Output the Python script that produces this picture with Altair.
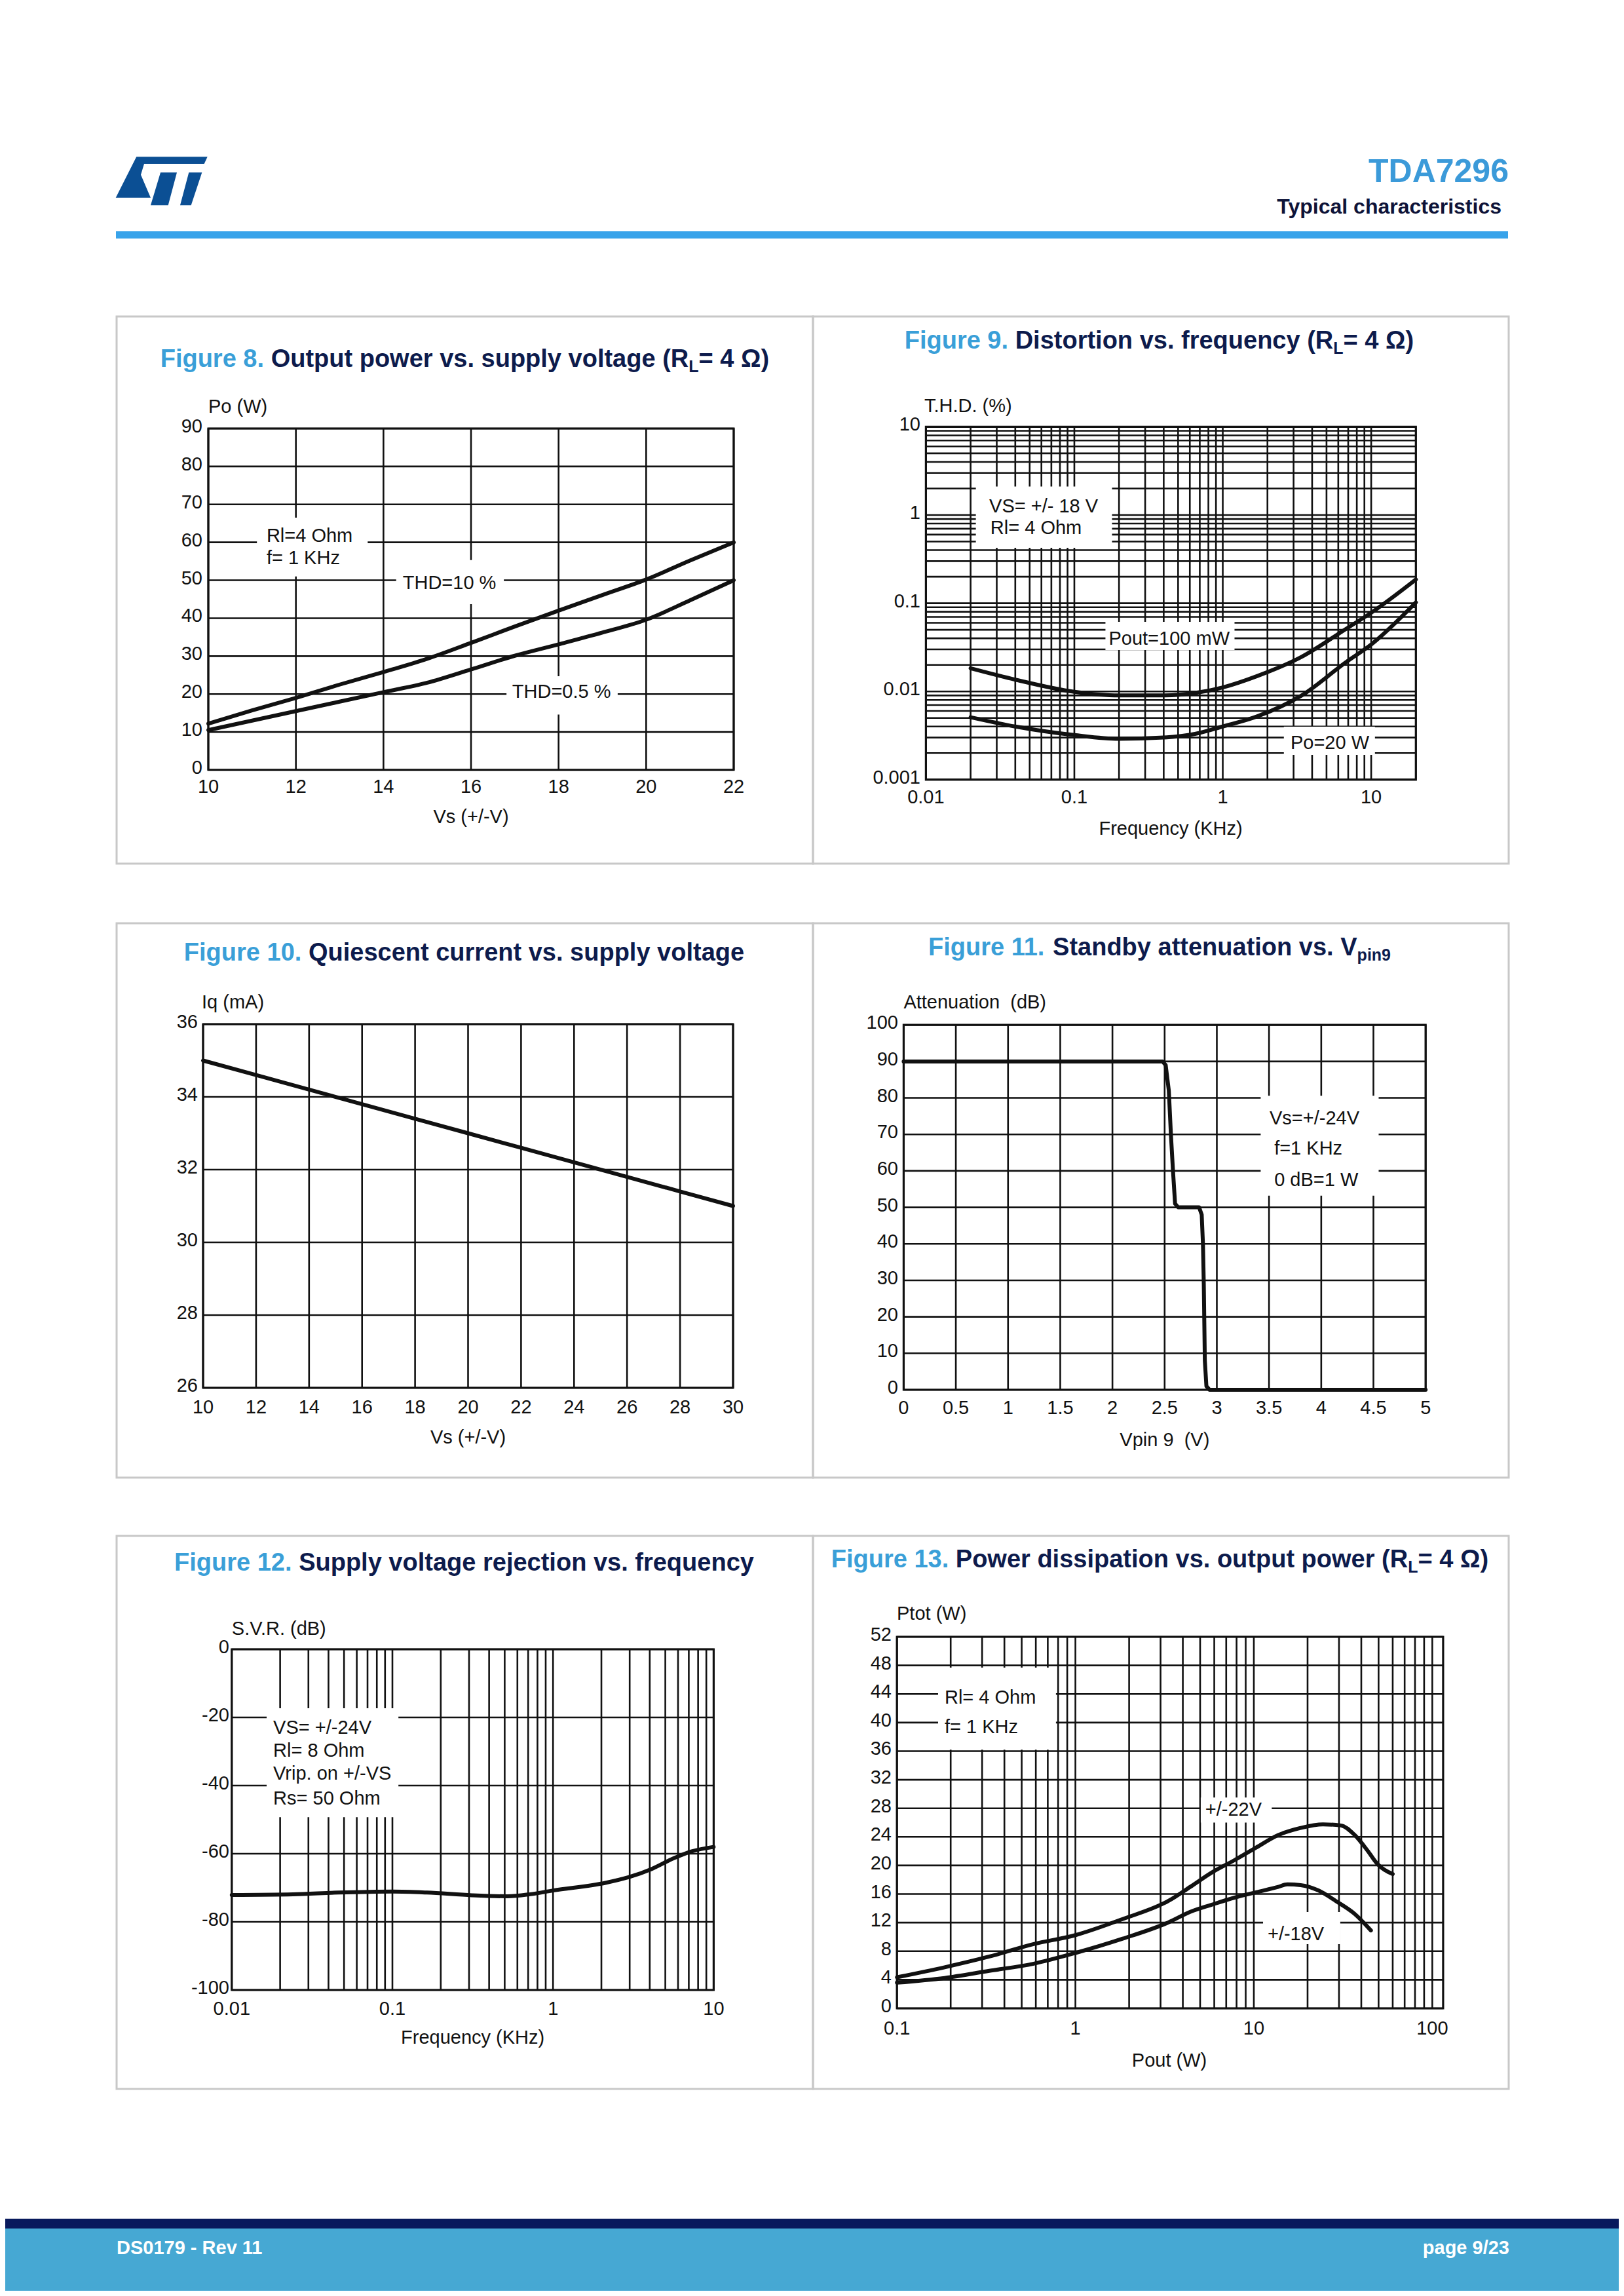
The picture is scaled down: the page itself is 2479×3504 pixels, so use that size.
import altair as alt
import pandas as pd

# ---------------- values ----------------
# Figure 8 : output power vs supply voltage
fig8_vs = [10, 11, 12, 13, 14, 15, 16, 17, 18, 19, 20, 21, 22]
fig8_po_thd10 = [12.2, 15.7, 19.0, 22.5, 25.8, 29.3, 33.5, 37.8, 42.0, 46.1, 50.2, 55.2, 60.0]
fig8_po_thd05 = [10.5, 13.0, 15.5, 18.0, 20.5, 23.0, 26.5, 30.1, 33.1, 36.2, 39.6, 44.7, 50.0]
fig8_xticks = [10, 12, 14, 16, 18, 20, 22]
fig8_yticks = [0, 10, 20, 30, 40, 50, 60, 70, 80, 90]

# Figure 9 : distortion vs frequency
fig9_freq = [0.02, 0.04, 0.1, 0.2, 0.4, 0.65, 1, 1.7, 3.4, 6.8, 10, 20]
fig9_thd_100mw = [0.0183, 0.0136, 0.0099, 0.0090, 0.0090, 0.0096, 0.0111, 0.0149, 0.0247, 0.0514, 0.078, 0.186]
fig9_thd_20w = [0.0051, 0.0040, 0.0032, 0.0029, 0.0030, 0.0033, 0.0040, 0.0052, 0.0090, 0.0216, 0.034, 0.102]
fig9_xticks = [0.01, 0.1, 1, 10]
fig9_xlabels = ["0.01", "0.1", "1", "10"]
fig9_yticks = [0.001, 0.01, 0.1, 1, 10]
fig9_ylabels = ["0.001", "0.01", "0.1", "1", "10"]

# Figure 10 : quiescent current vs supply voltage
fig10_vs = [10, 12, 14, 16, 18, 20, 22, 24, 26, 28, 30]
fig10_iq = [35.0, 34.6, 34.2, 33.8, 33.4, 33.0, 32.6, 32.2, 31.8, 31.4, 31.0]
fig10_xticks = [10, 12, 14, 16, 18, 20, 22, 24, 26, 28, 30]
fig10_yticks = [26, 28, 30, 32, 34, 36]

# Figure 11 : standby attenuation vs Vpin9
fig11_v = [0, 2.48, 2.51, 2.54, 2.56, 2.58, 2.60, 2.63, 2.83, 2.855, 2.867, 2.875, 2.885, 2.90, 2.93, 5]
fig11_att = [90, 90, 89, 82, 70, 60, 51, 50, 50, 48, 40, 29, 8, 1, 0, 0]
fig11_xticks = [0, 0.5, 1, 1.5, 2, 2.5, 3, 3.5, 4, 4.5, 5]
fig11_xlabels = ["0", "0.5", "1", "1.5", "2", "2.5", "3", "3.5", "4", "4.5", "5"]
fig11_yticks = [0, 10, 20, 30, 40, 50, 60, 70, 80, 90, 100]

# Figure 12 : supply voltage rejection vs frequency
fig12_freq = [0.01, 0.024, 0.046, 0.1, 0.164, 0.313, 0.52, 0.72, 1.0, 2.14, 2.95, 4.1, 5.6, 7.3, 10]
fig12_svr = [-72.1, -71.9, -71.4, -71.1, -71.4, -72.2, -72.5, -71.9, -70.8, -68.5, -66.9, -64.5, -61.4, -59.3, -58.0]
fig12_xticks = [0.01, 0.1, 1, 10]
fig12_xlabels = ["0.01", "0.1", "1", "10"]
fig12_yticks = [0, -20, -40, -60, -80, -100]

# Figure 13 : power dissipation vs output power
fig13_pout_22 = [0.1, 0.185, 0.329, 0.584, 1, 1.84, 3.3, 4.4, 5.8, 7.8, 10.3, 13.7, 18.3, 24.4, 30.7, 36.6, 43.6, 48.9, 60]
fig13_ptot_22 = [4.35, 5.75, 7.25, 9.0, 10.25, 12.5, 15.0, 17.0, 19.0, 20.75, 22.5, 24.25, 25.25, 25.75, 25.6, 24.3, 22.0, 20.3, 18.8]
fig13_pout_18 = [0.1, 0.185, 0.329, 0.584, 1, 1.84, 3.3, 4.4, 5.8, 7.8, 10.3, 13.7, 15.4, 18.3, 23, 28.9, 36.6, 45.3]
fig13_ptot_18 = [3.6, 4.25, 5.25, 6.25, 7.75, 9.75, 12.0, 13.5, 14.5, 15.5, 16.25, 17.0, 17.35, 17.25, 16.5, 15.0, 13.25, 10.9]
fig13_xticks = [0.1, 1, 10, 100]
fig13_xlabels = ["0.1", "1", "10", "100"]
fig13_yticks = [0, 4, 8, 12, 16, 20, 24, 28, 32, 36, 40, 44, 48, 52]

# ---------------- page layout / style ----------------
W, H, M = 2463, 3488, 8


def P(v):
    return v - M


FONT = "Liberation Sans"
INK = "#111111"
BLUE = "#3A9FD8"
NAVY = "#0D1B4C"
BOXGRAY = "#c8c8c8"
GRID_W = 2.6
CURVE_W = 6
TICK_FS = 29
AX_FS = 29
NOTE_FS = 29
TITLE_FS = 38
SUB_FS = 25

_BW = {' ': 278, '(': 333, ')': 333, '+': 584, ',': 278, '-': 333, '.': 278, '/': 278,
       '=': 584, '%': 889, 'Ω': 780}
for _c in '0123456789':
    _BW[_c] = 556
_BW.update(dict(zip('ABCDEFGHIJKLMNOPQRSTUVWXYZ',
                    [722, 722, 722, 722, 667, 611, 778, 722, 278, 556, 722, 611, 833, 722, 778,
                     667, 778, 722, 667, 611, 722, 667, 944, 667, 667, 611])))
_BW.update(dict(zip('abcdefghijklmnopqrstuvwxyz',
                    [556, 611, 556, 611, 556, 333, 611, 611, 278, 278, 556, 278, 889, 611, 611,
                     611, 611, 389, 556, 333, 611, 556, 778, 556, 556, 500])))


def tw(s, fs):
    return sum(_BW.get(c, 556) for c in s) * fs / 1000.0


def decades(lo_exp, hi_exp):
    return [round(m * 10.0 ** e, 12) for e in range(lo_exp, hi_exp) for m in range(1, 10)]


def one(**kw):
    return pd.DataFrame([kw])


def text_layer(txt, x, y, size, color, weight="normal", align="left"):
    return alt.Chart(one(t=txt)).mark_text(
        font=FONT, fontSize=size, fontWeight=weight, color=color, align=align, baseline="alphabetic"
    ).encode(x=alt.value(P(x)), y=alt.value(P(y)), text="t:N")


def rect_layer(x0, y0, x1, y1, **style):
    return alt.Chart(one(a=0)).mark_rect(**style).encode(
        x=alt.value(P(x0)), x2=alt.value(P(x1)), y=alt.value(P(y0)), y2=alt.value(P(y1)))


def title_layers(segs, cx, base):
    sizes = [SUB_FS if r == "sub" else TITLE_FS for _, r in segs]
    widths = [tw(s, f) for (s, _), f in zip(segs, sizes)]
    x = cx - sum(widths) / 2.0
    out = []
    for (s, role), f, w in zip(segs, sizes, widths):
        lead = len(s) - len(s.lstrip(" "))
        xx = x + tw(" " * lead, f)
        yy = base + (8 if role == "sub" else 0)
        out.append(text_layer(s.strip(" "), xx, yy, f, BLUE if role == "fig" else NAVY, "bold"))
        x += w
    return out


def make_scale(typ, dom, rng):
    if typ == "log":
        return alt.Scale(type="log", domain=dom, range=[P(rng[0]), P(rng[1])], nice=False)
    return alt.Scale(type="linear", domain=dom, range=[P(rng[0]), P(rng[1])], nice=False, zero=False)


def panel(p):
    xs = make_scale(p["xtype"], p["xdom"], p["xr"])
    ys = make_scale(p["ytype"], p["ydom"], p["yr"])

    def X(f):
        return alt.X(f, type="quantitative", scale=xs, axis=None)

    def Y(f):
        return alt.Y(f, type="quantitative", scale=ys, axis=None)

    L = []
    bx = p["box"]
    L.append(rect_layer(bx[0], bx[1], bx[2], bx[3], fillOpacity=0, stroke=BOXGRAY, strokeWidth=3))
    vg = pd.DataFrame({"g": p["xgrid"], "a": p["ydom"][0], "b": p["ydom"][1]})
    L.append(alt.Chart(vg).mark_rule(color=INK, strokeWidth=GRID_W).encode(
        x=X("g"), y=Y("a"), y2=alt.Y2("b")))
    hg = pd.DataFrame({"g": p["ygrid"], "a": p["xdom"][0], "b": p["xdom"][1]})
    L.append(alt.Chart(hg).mark_rule(color=INK, strokeWidth=GRID_W).encode(
        y=Y("g"), x=X("a"), x2=alt.X2("b")))
    fr = pd.DataFrame({"x0": [p["xdom"][0]], "x1": [p["xdom"][1]],
                       "y0": [p["ydom"][0]], "y1": [p["ydom"][1]]})
    L.append(alt.Chart(fr).mark_rect(fillOpacity=0, stroke=INK, strokeWidth=GRID_W + 0.6).encode(
        x=X("x0"), x2=alt.X2("x1"), y=Y("y0"), y2=alt.Y2("y1")))
    if p.get("boxes"):
        bd = pd.DataFrame(p["boxes"], columns=["x0", "x1", "y0", "y1"])
        L.append(alt.Chart(bd).mark_rect(color="white", opacity=1).encode(
            x=X("x0"), x2=alt.X2("x1"), y=Y("y0"), y2=alt.Y2("y1")))
    rows = []
    for name, (xv, yv) in p["series"].items():
        for i, (a, b) in enumerate(zip(xv, yv)):
            rows.append({"s": name, "i": i, "x": a, "y": b})
    L.append(alt.Chart(pd.DataFrame(rows)).mark_line(
        color=INK, strokeWidth=CURVE_W, interpolate=p["interp"], strokeCap="round", strokeJoin="round"
    ).encode(x=X("x"), y=Y("y"), detail="s:N", order="i:Q"))
    if p.get("notes"):
        nd = pd.DataFrame(p["notes"], columns=["x", "y", "t"])
        L.append(alt.Chart(nd).mark_text(font=FONT, fontSize=NOTE_FS, color=INK, align="left",
                                         baseline="alphabetic").encode(x=X("x"), y=Y("y"), text="t:N"))
    xt = pd.DataFrame({"v": p["xticks"], "t": p["xlabels"]})
    L.append(alt.Chart(xt).mark_text(font=FONT, fontSize=TICK_FS, color=INK, align="center",
                                     baseline="alphabetic").encode(
        x=X("v"), y=alt.value(P(p["xlab_base"])), text="t:N"))
    yt = pd.DataFrame({"v": p["yticks"], "t": p["ylabels"]})
    L.append(alt.Chart(yt).mark_text(font=FONT, fontSize=TICK_FS, color=INK, align="right",
                                     baseline="middle", dy=-3).encode(
        y=Y("v"), x=alt.value(P(p["ylab_right"])), text="t:N"))
    t, x, y = p["ytitle"]
    L.append(text_layer(t, x, y, AX_FS, INK))
    t, x, y = p["xtitle"]
    L.append(text_layer(t, x, y, AX_FS, INK, align="center"))
    L.extend(title_layers(p["title"], p["tcenter"], p["tbase"]))
    return alt.layer(*L)


NB = "\u00a0"

panels = [
    dict(  # Figure 8
        xtype="linear", xdom=[10, 22], xr=[318, 1120],
        ytype="linear", ydom=[0, 90], yr=[1175, 654],
        xgrid=fig8_xticks, ygrid=fig8_yticks,
        xticks=fig8_xticks, xlabels=[str(v) for v in fig8_xticks],
        yticks=fig8_yticks, ylabels=[str(v) for v in fig8_yticks],
        xlab_base=1210, ylab_right=309,
        ytitle=("Po (W)", 318, 630), xtitle=("Vs (+/-V)", 719, 1256),
        series={"THD=10 %": (fig8_vs, fig8_po_thd10), "THD=0.5 %": (fig8_vs, fig8_po_thd05)},
        interp="monotone",
        boxes=[(11.11, 13.64, 51.0, 66.5), (14.29, 16.75, 43.7, 55.3), (16.81, 19.35, 14.6, 24.7)],
        notes=[(11.33, 60.1, "Rl=4 Ohm"), (11.33, 54.2, "f= 1 KHz"),
               (14.44, 47.7, "THD=10 %"), (16.94, 19.0, "THD=0.5 %")],
        title=[("Figure 8.", "fig"), (" Output power vs. supply voltage (R", "n"), ("L", "sub"), ("= 4 Ω)", "n")],
        tcenter=709, tbase=560, box=(178, 483, 1241, 1318)),
    dict(  # Figure 9
        xtype="log", xdom=[0.01, 20], xr=[1413.4, 2161.3],
        ytype="log", ydom=[0.001, 10], yr=[1189.8, 651.4],
        xgrid=decades(-2, 1) + [10, 20], ygrid=decades(-3, 1) + [10],
        xticks=fig9_xticks, xlabels=fig9_xlabels, yticks=fig9_yticks, ylabels=fig9_ylabels,
        xlab_base=1226, ylab_right=1405,
        ytitle=("T.H.D. (%)", 1411, 629), xtitle=("Frequency (KHz)", 1787, 1274),
        series={"Pout=100 mW": (fig9_freq, fig9_thd_100mw), "Po=20 W": (fig9_freq, fig9_thd_20w)},
        interp="monotone",
        boxes=[(0.0217, 0.1794, 0.425, 2.105), (0.162, 1.2, 0.0295, 0.0615), (2.58, 10.6, 0.00191, 0.00398)],
        notes=[(0.0267, 1.078, "VS= +/- 18 V"), (0.0272, 0.611, "Rl= 4 Ohm"),
               (0.1705, 0.034, "Pout=100 mW"), (2.86, 0.00224, "Po=20 W")],
        title=[("Figure 9.", "fig"), (" Distortion vs. frequency (R", "n"), ("L", "sub"), ("= 4 Ω)", "n")],
        tcenter=1769, tbase=532, box=(1241, 483, 2303, 1318)),
    dict(  # Figure 10
        xtype="linear", xdom=[10, 30], xr=[310, 1119],
        ytype="linear", ydom=[26, 36], yr=[2118, 1563],
        xgrid=fig10_xticks, ygrid=fig10_yticks,
        xticks=fig10_xticks, xlabels=[str(v) for v in fig10_xticks],
        yticks=fig10_yticks, ylabels=[str(v) for v in fig10_yticks],
        xlab_base=2157, ylab_right=302,
        ytitle=("Iq" + NB + "(mA)", 308, 1539), xtitle=("Vs (+/-V)", 714.5, 2203),
        series={"Iq": (fig10_vs, fig10_iq)}, interp="linear",
        title=[("Figure 10.", "fig"), (" Quiescent current vs. supply voltage", "n")],
        tcenter=708.5, tbase=1466, box=(178, 1409, 1241, 2255)),
    dict(  # Figure 11
        xtype="linear", xdom=[0, 5], xr=[1379.4, 2176.2],
        ytype="linear", ydom=[0, 100], yr=[2121, 1564.2],
        xgrid=fig11_xticks, ygrid=fig11_yticks,
        xticks=fig11_xticks, xlabels=fig11_xlabels,
        yticks=fig11_yticks, ylabels=[str(v) for v in fig11_yticks],
        xlab_base=2158, ylab_right=1371,
        ytitle=("Attenuation" + NB + NB + "(dB)", 1379.4, 1539), xtitle=("Vpin 9" + NB + NB + "(V)", 1777.8, 2207),
        series={"att": (fig11_v, fig11_att)}, interp="linear",
        boxes=[(3.42, 4.55, 53.2, 80.6)],
        notes=[(3.505, 72.8, "Vs=+/-24V"), (3.55, 64.4, "f=1 KHz"), (3.55, 55.9, "0 dB=1 W")],
        title=[("Figure 11.", "fig"), (" Standby attenuation vs. V", "n"), ("pin9", "sub")],
        tcenter=1770, tbase=1458, box=(1241, 1409, 2303, 2255)),
    dict(  # Figure 12
        xtype="log", xdom=[0.01, 10], xr=[353.8, 1089.4],
        ytype="linear", ydom=[-100, 0], yr=[3037, 2517],
        xgrid=decades(-2, 1) + [10], ygrid=fig12_yticks,
        xticks=fig12_xticks, xlabels=fig12_xlabels,
        yticks=fig12_yticks, ylabels=[str(v) for v in fig12_yticks],
        xlab_base=3075, ylab_right=350,
        ytitle=("S.V.R. (dB)", 353.8, 2495), xtitle=("Frequency (KHz)", 721.6, 3119),
        series={"svr": (fig12_freq, fig12_svr)}, interp="monotone",
        boxes=[(0.01648, 0.109, -49.3, -17.3)],
        notes=[(0.01812, -24.9, "VS= +/-24V"), (0.01812, -31.5, "Rl= 8 Ohm"),
               (0.01812, -38.3, "Vrip. on +/-VS"), (0.01812, -45.65, "Rs= 50 Ohm")],
        title=[("Figure 12.", "fig"), (" Supply voltage rejection vs. frequency", "n")],
        tcenter=708.5, tbase=2397, box=(178, 2344, 1241, 3188)),
    dict(  # Figure 13
        xtype="log", xdom=[0.1, 115], xr=[1369.2, 2202.9],
        ytype="linear", ydom=[0, 52], yr=[3065, 2498],
        xgrid=decades(-1, 2) + [100], ygrid=fig13_yticks,
        xticks=fig13_xticks, xlabels=fig13_xlabels,
        yticks=fig13_yticks, ylabels=[str(v) for v in fig13_yticks],
        xlab_base=3105, ylab_right=1361,
        ytitle=("Ptot (W)", 1369, 2472), xtitle=("Pout (W)", 1785, 3154),
        series={"+/-22V": (fig13_pout_22, fig13_ptot_22), "+/-18V": (fig13_pout_18, fig13_ptot_18)},
        interp="monotone",
        boxes=[(0.17, 0.778, 36.2, 47.7), (5.04, 12.6, 26.0, 29.5), (11.26, 30.5, 8.99, 13.48)],
        notes=[(0.185, 42.6, "Rl= 4 Ohm"), (0.185, 38.5, "f= 1 KHz"),
               (5.34, 27.0, "+/-22V"), (11.94, 9.58, "+/-18V")],
        title=[("Figure 13.", "fig"), (" Power dissipation vs. output power (R", "n"), ("L", "sub"), ("= 4 Ω)", "n")],
        tcenter=1770, tbase=2392, box=(1241, 2344, 2303, 3188)),
]

# ---------------- header / footer decoration ----------------
LOGO_PATH = ("M -0.549 -0.529 L 1.0 -0.529 L 0.929 -0.376 L -0.381 -0.376 L -0.453 -0.137 "
             "L -0.239 0.363 L -1.0 0.363 Z "
             "M -0.024 -0.186 L 0.333 -0.186 L 0.143 0.529 L -0.239 0.529 Z "
             "M 0.594 -0.186 L 0.880 -0.186 L 0.643 0.529 L 0.404 0.529 Z")
logo = alt.Chart(one(a=0)).mark_point(shape=LOGO_PATH, filled=True, color="#0B4F94", opacity=1,
                                      size=19600, strokeWidth=0).encode(
    x=alt.value(P(246.7)), y=alt.value(P(276.3)))

deco = [
    logo,
    text_layer("TDA7296", 2303, 278, 50, "#3B9AD9", "bold", "right"),
    text_layer("Typical characteristics", 2292, 326, 32, "#0E1338", "bold", "right"),
    rect_layer(177, 353, 2302, 364, color="#38A3EA"),
    rect_layer(0, 3386, 2479, 3401, color="#08195C"),
    rect_layer(0, 3401, 2479, 3504, color="#46A8D3"),
    text_layer("DS0179 - Rev 11", 178, 3440, 29, "white", "bold"),
    text_layer("page 9/23", 2304, 3440, 29, "white", "bold", "right"),
]

chart = alt.layer(*deco, *[panel(p) for p in panels]).resolve_scale(
    x="independent", y="independent"
).properties(
    width=W, height=H, padding=0, background="white",
    autosize=alt.AutoSizeParams(type="none"),
).configure_view(strokeWidth=0)

chart.save("out.html", embed_options={"renderer": "svg", "actions": False})
